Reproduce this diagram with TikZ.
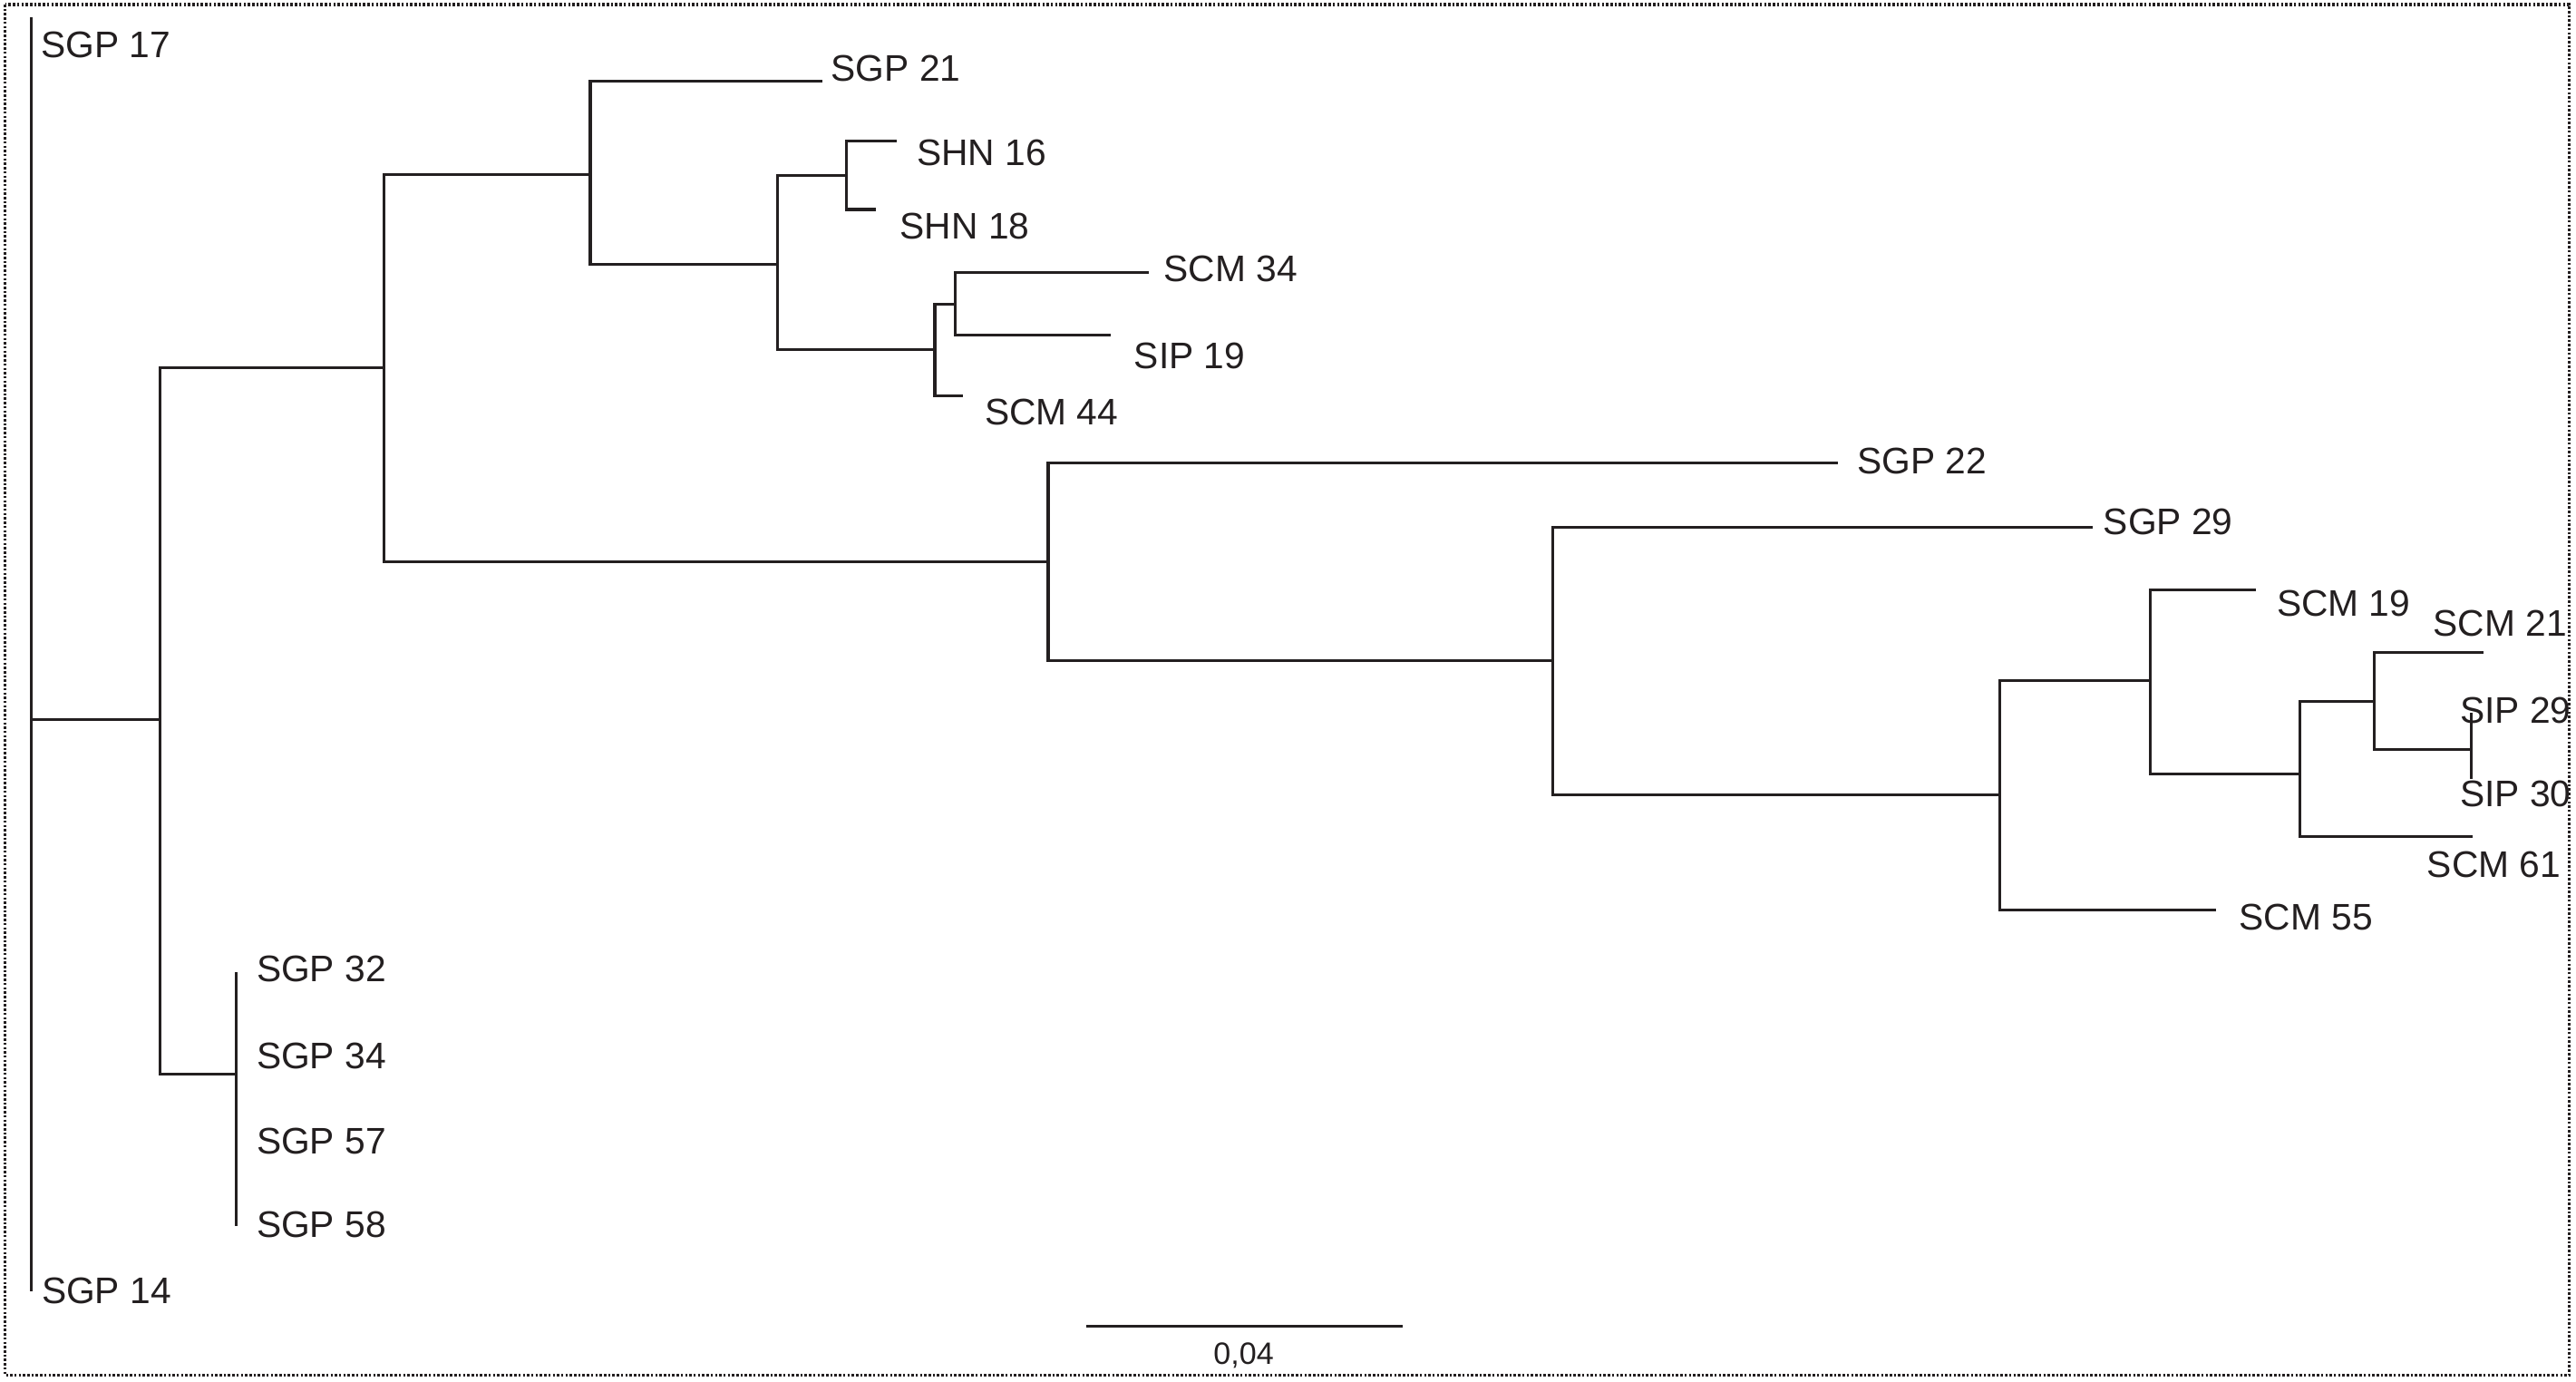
\documentclass[tikz,border=0pt]{standalone}
\usepackage{fontspec}
\setmainfont{Liberation Sans}
\definecolor{ink}{HTML}{231F20}
\begin{document}
\begin{tikzpicture}[x=0.5pt,y=-0.5pt,
  branch/.style={draw=ink,line width=0.85pt},
  lab/.style={anchor=base west,inner sep=0pt,text=ink,font=\fontsize{11.25}{13}\selectfont},
  scalelab/.style={anchor=base,inner sep=0pt,text=ink,font=\fontsize{9.4}{11}\selectfont},
  frame/.style={draw=ink,line width=0.9pt,dash pattern=on 0.7pt off 0.6pt}]
\useasboundingbox (0,0) rectangle (1568,841);
\draw[frame] (3.2,2.8) rectangle (1564,837);
% internal nodes
\coordinate (R) at (19,438);
\coordinate (N1) at (97.2,438);
\coordinate (NS) at (143.6,653.5);
\coordinate (N2) at (233.5,224);
\coordinate (N3) at (359.3,106);
\coordinate (N4) at (473.3,161);
\coordinate (N5) at (515,107);
\coordinate (N6) at (569,213);
\coordinate (N7) at (581.4,185.3);
\coordinate (N8) at (638,342);
\coordinate (N9) at (945,402);
\coordinate (N10) at (1217,483.5);
\coordinate (N11) at (1309,414);
\coordinate (N12) at (1400,471);
\coordinate (N13) at (1445,427);
\coordinate (N14) at (1504,456);
% leaf tips
\coordinate (tSGP17) at (19,10.5);
\coordinate (tSGP14) at (19,786);
\coordinate (tSGP32) at (143.6,591.8);
\coordinate (tSGP58) at (143.6,746);
\coordinate (tSGP21) at (500.6,49.3);
\coordinate (tSHN16) at (546,86);
\coordinate (tSHN18) at (533,127.5);
\coordinate (tSCM34) at (699,165.6);
\coordinate (tSIP19) at (676,204);
\coordinate (tSCM44) at (586,241);
\coordinate (tSGP22) at (1118.7,282);
\coordinate (tSGP29) at (1274,320.8);
\coordinate (tSCM19) at (1373,359);
\coordinate (tSCM21) at (1511.7,397);
\coordinate (tSIP29) at (1504,434);
\coordinate (tSIP30) at (1504,474);
\coordinate (tSCM61) at (1505,509);
\coordinate (tSCM55) at (1349,554);
% branches
\draw[branch] (R) -- (tSGP17);
\draw[branch] (R) -- (tSGP14);
\draw[branch] (R) -- (N1);
\draw[branch] (N1) |- (N2);
\draw[branch] (N1) |- (NS);
\draw[branch] (NS) -- (tSGP32);
\draw[branch] (NS) -- (tSGP58);
\draw[branch] (N2) |- (N3);
\draw[branch] (N2) |- (N8);
\draw[branch] (N3) |- (tSGP21);
\draw[branch] (N3) |- (N4);
\draw[branch] (N4) |- (N5);
\draw[branch] (N4) |- (N6);
\draw[branch] (N5) |- (tSHN16);
\draw[branch] (N5) |- (tSHN18);
\draw[branch] (N6) |- (N7);
\draw[branch] (N6) |- (tSCM44);
\draw[branch] (N7) |- (tSCM34);
\draw[branch] (N7) |- (tSIP19);
\draw[branch] (N8) |- (tSGP22);
\draw[branch] (N8) |- (N9);
\draw[branch] (N9) |- (tSGP29);
\draw[branch] (N9) |- (N10);
\draw[branch] (N10) |- (N11);
\draw[branch] (N10) |- (tSCM55);
\draw[branch] (N11) |- (tSCM19);
\draw[branch] (N11) |- (N12);
\draw[branch] (N12) |- (N13);
\draw[branch] (N12) |- (tSCM61);
\draw[branch] (N13) |- (tSCM21);
\draw[branch] (N13) |- (N14);
\draw[branch] (N14) -- (tSIP29);
\draw[branch] (N14) -- (tSIP30);
% labels
\node[lab] (lSGP17) at (24.7,35) {SGP 17};
\node[lab] (lSGP14) at (25,793.5) {SGP 14};
\node[lab] (lSGP32) at (155.8,597.5) {SGP 32};
\node[lab] (lSGP34) at (155.8,650.4) {SGP 34};
\node[lab] (lSGP57) at (155.8,702.3) {SGP 57};
\node[lab] (lSGP58) at (155.8,753) {SGP 58};
\node[lab] (lSGP21) at (505.5,49.4) {SGP 21};
\node[lab] (lSHN16) at (557.6,100.8) {SHN 16};
\node[lab] (lSHN18) at (547.5,145.4) {SHN 18};
\node[lab] (lSCM34) at (708,171.5) {SCM 34};
\node[lab] (lSIP19) at (690,224.5) {SIP 19};
\node[lab] (lSCM44) at (599,258.6) {SCM 44};
\node[lab] (lSGP22) at (1130,288.5) {SGP 22};
\node[lab] (lSGP29) at (1280,325.5) {SGP 29};
\node[lab] (lSCM19) at (1385.5,375) {SCM 19};
\node[lab] (lSCM21) at (1480.7,387) {SCM 21};
\node[lab] (lSIP29) at (1497,440) {SIP 29};
\node[lab] (lSIP30) at (1497,491) {SIP 30};
\node[lab] (lSCM61) at (1477,534) {SCM 61};
\node[lab] (lSCM55) at (1362.6,566) {SCM 55};
% scale bar
\coordinate (sb1) at (661,807);
\coordinate (sb2) at (854,807);
\draw[branch] (sb1) -- (sb2);
\node[scalelab] (sbl) at (757,830.5) {0,04};
\end{tikzpicture}
\end{document}
